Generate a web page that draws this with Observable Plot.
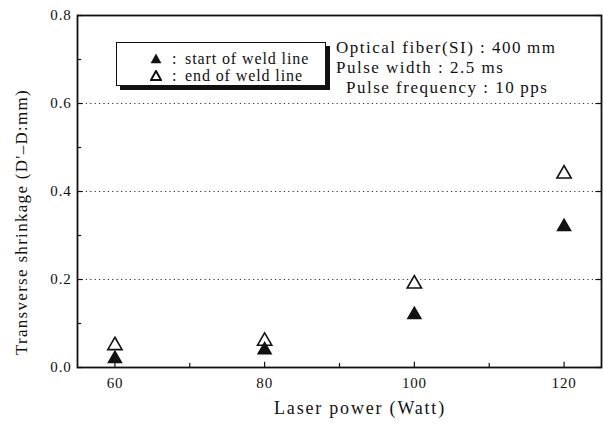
<!DOCTYPE html>
<html>
<head>
<meta charset="utf-8">
<script src="https://cdn.jsdelivr.net/npm/d3@7"></script>
<script src="https://cdn.jsdelivr.net/npm/@observablehq/plot@0.6"></script>
<style>
  html, body { margin: 0; padding: 0; background: #fff; }
  #wrap { position: relative; width: 603px; height: 425px; font-family: "Liberation Serif", "DejaVu Serif", serif; color: #111; overflow: hidden; }
  #legend { position: absolute; left: 116px; top: 42px; width: 208px; height: 42px; border: 1.5px solid #111; background: #fff; box-shadow: 4px 4px 0 #111; font-size: 16px; letter-spacing: 0.9px; }
  #legend .row { position: absolute; left: 0; white-space: nowrap; height: 16px; line-height: 16px; }
  #legend svg { position: absolute; left: 33px; top: 2px; }
  #legend .colon { position: absolute; left: 55px; }
  #legend .lab { position: absolute; left: 68px; }
  #notes { position: absolute; left: 336px; top: 38px; font-size: 17px; line-height: 20px; letter-spacing: 1.5px; white-space: nowrap; }
  .title { position: absolute; font-size: 17px; letter-spacing: 1.3px; white-space: nowrap; }
  .title.x { font-size: 18px; letter-spacing: 1.8px; }
</style>
</head>
<body>
<div id="wrap"></div>
<script>
const power = [60, 80, 100, 120];
const startWeld = [0.02, 0.04, 0.12, 0.32];
const endWeld = [0.05, 0.06, 0.19, 0.44];
const yMajor = [0, 0.2, 0.4, 0.6, 0.8];
const yMinor = [0.1, 0.3, 0.5, 0.7];
const xMajor = [60, 80, 100, 120];
const xMinor = [70, 90, 110];
const gridY = [0.2, 0.4, 0.6];
const legendLabels = ["start of weld line", "end of weld line"];
const notes = ["Optical fiber(SI) : 400\u2009mm", "Pulse width : 2.5 ms", "\u2002Pulse frequency : 10\u2009pps"];
const xTitle = "Laser power (Watt)";
const yTitle = "Transverse shrinkage (D'\u2013D:mm)";

const startData = power.map((p, i) => ({p, v: startWeld[i]}));
const endData = power.map((p, i) => ({p, v: endWeld[i]}));

const font = "Liberation Serif, DejaVu Serif, serif";
const chart = Plot.plot({
  width: 603,
  height: 425,
  marginLeft: 77,
  marginRight: 2,
  marginTop: 15,
  marginBottom: 58,
  style: {fontFamily: font, fontSize: "15px", color: "#111", background: "white", letterSpacing: "0.8px"},
  x: {domain: [55, 125]},
  y: {domain: [0, 0.8]},
  marks: [
    Plot.ruleY(gridY, {stroke: "#333", strokeDasharray: "1.2,3.2", strokeWidth: 1}),
    Plot.ruleY(yMajor, {x1: 55, x2: 55.75, stroke: "#111", strokeWidth: 1.2}),
    Plot.ruleY(yMinor, {x1: 55, x2: 55.55, stroke: "#111", strokeWidth: 1.2}),
    Plot.ruleY(yMajor, {x1: 124.25, x2: 125, stroke: "#111", strokeWidth: 1.2}),
    Plot.ruleX(xMajor, {y1: 0, y2: 0.012, stroke: "#111", strokeWidth: 1.2}),
    Plot.ruleX(xMinor, {y1: 0, y2: 0.009, stroke: "#111", strokeWidth: 1.2}),
    Plot.axisY(yMajor, {tickSize: 0, tickPadding: 6, tickFormat: d3.format(".1f"), fontSize: 15, label: null}),
    Plot.axisX(xMajor, {tickSize: 0, tickPadding: 10, fontSize: 15, label: null}),
    Plot.frame({stroke: "#111", strokeWidth: 1.8}),
    Plot.dot(endData, {x: "p", y: "v", symbol: "triangle", r: 5.3, fill: "white", stroke: "#111", strokeWidth: 1.6}),
    Plot.dot(startData, {x: "p", y: "v", symbol: "triangle", r: 5.8, fill: "#111", stroke: "none"})
  ]
});
const wrap = document.getElementById("wrap");
wrap.appendChild(chart);

// legend
const leg = document.createElement("div");
leg.id = "legend";
const tri = (filled) => `<svg width="12" height="11" viewBox="0 0 12 11"><path d="M6,1 L11,10 L1,10 Z" fill="${filled ? "#111" : "white"}" stroke="#111" stroke-width="${filled ? 0.5 : 2}"/></svg>`;
leg.innerHTML = legendLabels.map((l, i) =>
  `<div class="row" style="top:${8 + i * 17}px">${tri(i === 0)}<span class="colon">:</span><span class="lab">${l}</span></div>`
).join("");
wrap.appendChild(leg);

// notes
const nt = document.createElement("div");
nt.id = "notes";
nt.innerHTML = notes.map(n => `<div>${n}</div>`).join("");
wrap.appendChild(nt);

// axis titles
const xt = document.createElement("div");
xt.className = "title x";
xt.textContent = xTitle;
wrap.appendChild(xt);
const xw = xt.getBoundingClientRect().width;
xt.style.left = (360 - xw / 2) + "px";
xt.style.top = "398px";

const yt = document.createElement("div");
yt.className = "title";
yt.textContent = yTitle;
wrap.appendChild(yt);
const r = yt.getBoundingClientRect();
yt.style.left = (22 - r.width / 2) + "px";
yt.style.top = (222 - r.height / 2) + "px";
yt.style.transform = "rotate(-90deg)";
</script>
</body>
</html>
